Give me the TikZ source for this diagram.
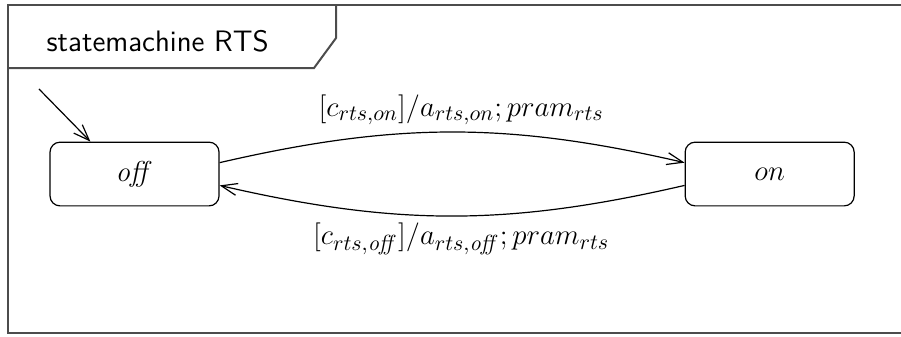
\documentclass[tikz,border=0pt]{standalone}
\usepackage{amsmath,amssymb}
\usetikzlibrary{arrows.meta}
\usetikzlibrary{positioning}

\begin{document}
\begin{tikzpicture}[font=\fontsize{15.5}{18}\selectfont,>={Straight Barb[length=8pt,width=6pt]}]

		\tikzset{
			state/.style={
				draw,
				line width=0.6pt,
				rounded corners=5pt,
				minimum width=2.97cm,
				minimum height=1.12cm,
				inner sep=0pt
			},
			frame/.style={
				draw=black!70,
				line width=1pt
			}
		}

		\useasboundingbox (0,0) rectangle (15.833,-5.905);

		\draw[frame] (15.833,-0.079) -- (0.141,-0.079) -- (0.141,-5.843) -- (15.833,-5.843);
		\draw[frame] (5.905,-0.079) -- (5.905,-0.668) -- (5.518,-1.195) -- (0.141,-1.195);
		\node[font=\fontsize{14.8}{17}\sffamily] (title) at (2.77,-0.73) {statemachine RTS};

		\node[state] (off) at (2.364,-3.058) {$\mathit{off}$};
		\node[state,right=8.17cm of off] (on) {$on$};

		\coordinate (init) at (0.685,-1.564);
		\draw[->,line width=0.6pt] (init) -- ([xshift=7.2mm]off.north west);

		\draw[->,line width=0.6pt] ([yshift=2mm]off.east) to[bend left=13]
			node[above,xshift=1.6mm] {$[c_{rts,on}]/a_{rts,on};pram_{rts}$} ([yshift=2mm]on.west);
		\draw[->,line width=0.6pt] ([yshift=-2mm]on.west) to[bend left=13]
			node[below,xshift=1.6mm] {$[c_{rts,\mathit{off}}]/a_{rts,\mathit{off}};pram_{rts}$} ([yshift=-2mm]off.east);

	\end{tikzpicture}
\end{document}
